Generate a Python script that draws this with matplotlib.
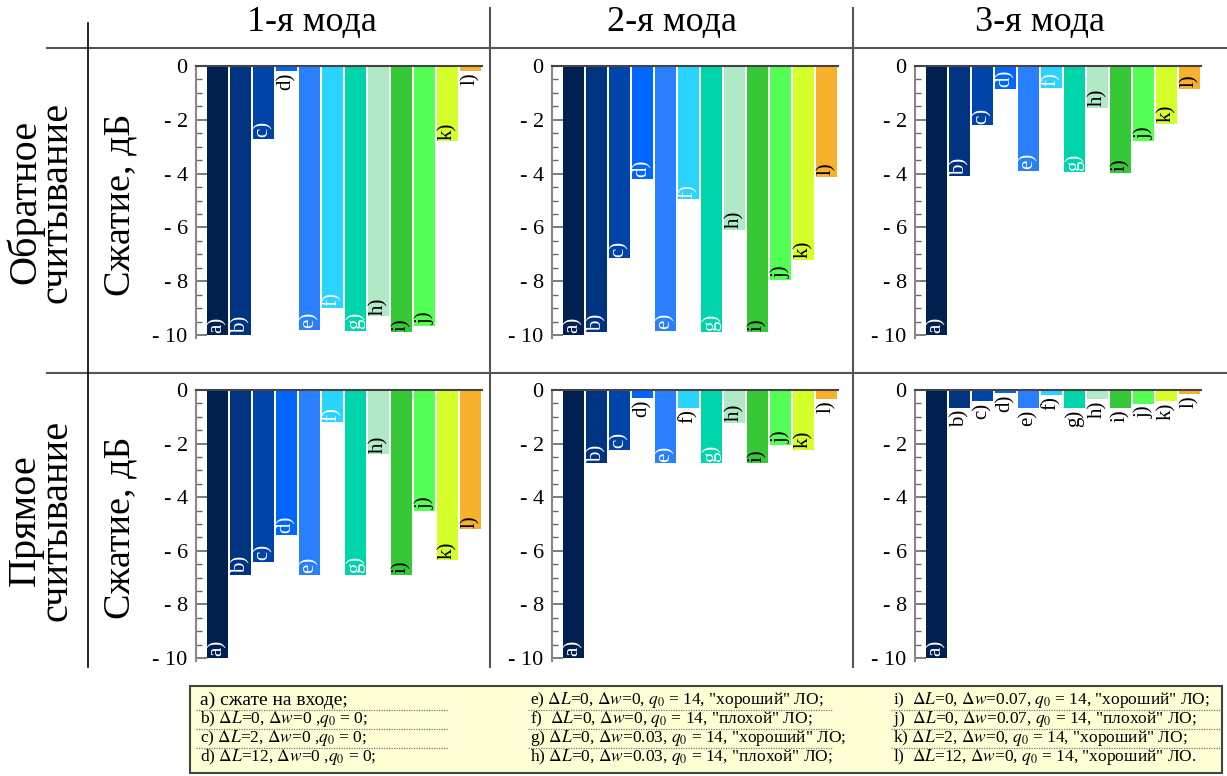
import matplotlib
matplotlib.use("Agg")
import matplotlib.pyplot as plt
from matplotlib.lines import Line2D
from matplotlib.patches import Rectangle
from matplotlib.ticker import FuncFormatter, MultipleLocator

plt.rcParams["font.family"] = ["Liberation Serif", "DejaVu Serif"]
plt.rcParams["mathtext.fontset"] = "stix"

W, H = 1227, 776

# ---- данные (сжатие, дБ) ----
bar_labels = ["a)", "b)", "c)", "d)", "e)", "f)", "g)", "h)", "i)", "j)", "k)", "l)"]
bar_colors = ["#00214f", "#003380", "#0044aa", "#0066ff", "#2a7fff", "#2ad4ff",
              "#00d4aa", "#afe9c6", "#37c837", "#55ff55", "#d4ff2a", "#f9b12c"]
inside_text = ["white"] * 7 + ["black"] * 5

mode_titles = ["1-я мода", "2-я мода", "3-я мода"]
row_titles = ["Обратное\nсчитывание", "Прямое\nсчитывание"]
ylabel = "Сжатие, дБ"

rev_mode1 = [-10, -10, -2.7, -0.2, -9.8, -9.0, -9.85, -9.3, -9.9, -9.65, -2.8, -0.2]
rev_mode2 = [-10, -9.9, -7.15, -4.2, -9.85, -4.95, -9.9, -6.1, -9.9, -7.95, -7.2, -4.13]
rev_mode3 = [-10, -4.1, -2.2, -0.85, -3.9, -0.8, -3.95, -1.55, -3.98, -2.78, -2.15, -0.85]
fwd_mode1 = [-10, -6.9, -6.4, -5.4, -6.9, -1.2, -6.9, -2.4, -6.9, -4.5, -6.35, -5.2]
fwd_mode2 = [-10, -2.73, -2.24, -0.3, -2.73, -0.67, -2.73, -1.23, -2.73, -2.05, -2.24, -0.34]
fwd_mode3 = [-10, -0.68, -0.42, -0.12, -0.68, -0.19, -0.68, -0.34, -0.68, -0.53, -0.42, -0.16]

legend_cols = [
    ["a) сжате на входе;",
     r"b) $\Delta L$=0, $\Delta w$=0 ,$q_0$ = 0;",
     r"c) $\Delta L$=2, $\Delta w$=0 ,$q_0$ = 0;",
     r"d) $\Delta L$=12, $\Delta w$=0 ,$q_0$ = 0;"],
    [r'e) $\Delta L$=0, $\Delta w$=0, $q_0$ = 14, "хороший" ЛО;',
     r'f)  $\Delta L$=0, $\Delta w$=0, $q_0$ = 14, "плохой" ЛО;',
     r'g) $\Delta L$=0, $\Delta w$=0.03, $q_0$ = 14, "хороший" ЛО;',
     r'h) $\Delta L$=0, $\Delta w$=0.03, $q_0$ = 14, "плохой" ЛО;'],
    [r'i)  $\Delta L$=0, $\Delta w$=0.07, $q_0$ = 14, "хороший" ЛО;',
     r'j)  $\Delta L$=0, $\Delta w$=0.07, $q_0$ = 14, "плохой" ЛО;',
     r'k) $\Delta L$=2, $\Delta w$=0, $q_0$ = 14, "хороший" ЛО;',
     r'l)  $\Delta L$=12, $\Delta w$=0, $q_0$ = 14, "хороший" ЛО.'],
]

grid_data = [[rev_mode1, rev_mode2, rev_mode3],
             [fwd_mode1, fwd_mode2, fwd_mode3]]

fig = plt.figure(figsize=(W / 100, H / 100), dpi=100)


def px_axes(x0, y0, x1, y1):
    return fig.add_axes([x0 / W, 1 - y1 / H, (x1 - x0) / W, (y1 - y0) / H])


def fx(x):
    return x / W


def fy(y):
    return 1 - y / H


col_px = [(196, 482), (552, 838), (915, 1201)]
row_px = [(66, 337.7), (390, 660.7)]

fmt = FuncFormatter(lambda v, p: "0" if abs(v) < 1e-9 else f"- {abs(int(round(v)))}")

for r, (y0, y1) in enumerate(row_px):
    for c, (x0, x1) in enumerate(col_px):
        ax = px_axes(x0, y0, x1, y1)
        vals = grid_data[r][c]
        xs = list(range(len(vals)))
        ax.bar(xs, vals, width=0.92, color=bar_colors, zorder=2)
        for i, v in enumerate(vals):
            if abs(v) > 0.75:
                ax.text(i, v + 0.06, bar_labels[i], rotation=90, ha="center",
                        va="bottom", color=inside_text[i], fontsize=15, zorder=3)
            else:
                ax.text(i, v - 0.05, bar_labels[i], rotation=90, ha="center",
                        va="top", color="black", fontsize=15, zorder=3)
        ax.set_xlim(-0.93, 11.5)
        ax.set_ylim(-10.1, 0)
        ax.set_xticks([])
        ax.yaxis.set_major_locator(MultipleLocator(2))
        ax.yaxis.set_minor_locator(MultipleLocator(0.5))
        ax.yaxis.set_major_formatter(fmt)
        ax.tick_params(axis="y", which="major", direction="in", length=8,
                       width=1.2, color="#666666", labelsize=16, pad=6)
        ax.tick_params(axis="y", which="minor", direction="in", length=4,
                       width=1.0, color="#666666")
        for s in ["right", "bottom"]:
            ax.spines[s].set_visible(False)
        ax.spines["top"].set_color("#444444")
        ax.spines["top"].set_linewidth(1.5)
        ax.spines["left"].set_color("#888888")
        ax.spines["left"].set_linewidth(1.5)
        ax.set_facecolor("none")

# заголовки столбцов
for xc, t in zip([312, 672, 1040], mode_titles):
    fig.text(fx(xc), fy(23), t, ha="center", va="center", fontsize=26)

# подписи строк
for (y0, y1), t, yl in zip(row_px, row_titles, [(202, 205), (520, 528)]):
    fig.text(fx(41), fy(yl[0]), t, rotation=90, ha="center", va="center",
             fontsize=29, linespacing=0.8)
    fig.text(fx(120), fy(yl[1]), ylabel, rotation=90, ha="center", va="center",
             fontsize=27.5)

# линии таблицы
line_kw = dict(color="#555555", linewidth=1.5, transform=fig.transFigure)
fig.add_artist(Line2D([fx(47), fx(1227)], [fy(48), fy(48)], **line_kw))
fig.add_artist(Line2D([fx(47), fx(1227)], [fy(373), fy(373)], **line_kw))
fig.add_artist(Line2D([fx(88), fx(88)], [fy(23), fy(667)], color="black",
                      linewidth=1.2, transform=fig.transFigure))
fig.add_artist(Line2D([fx(490), fx(490)], [fy(8), fy(667)], **line_kw))
fig.add_artist(Line2D([fx(853), fx(853)], [fy(8), fy(667)], **line_kw))

# легенда
fig.add_artist(Rectangle((fx(190), fy(773)), fx(1222) - fx(190), fy(686) - fy(773),
                         transform=fig.transFigure, facecolor="#ffffd5",
                         edgecolor="#444444", linewidth=1.5, zorder=0))
col_x = [(200, 196, 448), (530, 528, 833), (893, 891, 1220)]
row_y = [700, 719, 738, 757]
sep_y = [709.5, 729, 748]
for (tx, lx0, lx1), texts in zip(col_x, legend_cols):
    for k, (t, ry) in enumerate(zip(texts, row_y)):
        fs = 14 if "$" not in t else 12.5
        fig.text(fx(tx), fy(ry), t, ha="left", va="center", fontsize=fs)
    for sy in sep_y:
        fig.add_artist(Line2D([fx(lx0), fx(lx1)], [fy(sy), fy(sy)], color="#777777",
                              linewidth=0.9, linestyle=(0, (1, 1)),
                              transform=fig.transFigure))

fig.savefig("out.png", dpi=100)
